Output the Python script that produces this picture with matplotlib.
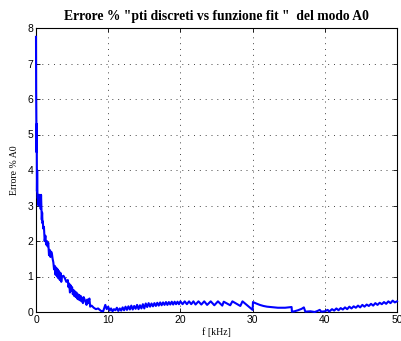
import matplotlib
matplotlib.use("Agg")
import matplotlib.pyplot as plt

# Frequency (kHz) and percentage error between discrete points and fitted curve, mode A0
freq_khz = [
    0.0, 0.02, 0.05, 0.08, 0.1, 0.13, 0.16, 0.2, 0.25, 0.3, 0.35, 0.4, 0.45, 0.5,
    0.55, 0.6, 0.65, 0.7, 0.75, 0.8,
    0.85, 0.9, 0.95, 1.0, 1.1, 1.2, 1.3, 1.4, 1.5, 1.6, 1.7, 1.8, 1.9, 2.0, 2.1,
    2.2, 2.3, 2.4, 2.5, 2.6, 2.7, 2.8, 2.9, 3.0, 3.1, 3.2, 3.3, 3.4, 3.5, 3.6,
    3.8, 4.0, 4.2, 4.4, 4.5, 4.6, 4.7, 4.8, 4.9, 5.0, 5.1, 5.2, 5.3, 5.4, 5.5,
    5.6, 5.7, 5.8, 5.9, 6.0, 6.1, 6.2, 6.3, 6.4, 6.5, 6.6, 6.8, 7.0, 7.1, 7.2,
    7.4, 7.5, 7.7, 8.0, 8.3, 8.6, 9.0, 9.3, 9.6, 9.8, 10.0, 10.2, 10.4, 10.6,
    10.8,
    11.0, 11.2, 11.4, 11.6, 11.8, 12.0, 12.2, 12.4, 12.6, 12.8, 13.0, 13.2,
    13.4, 13.6, 13.8, 14.0, 14.2, 14.4, 14.6, 14.8, 15.0, 15.2, 15.4, 15.6,
    15.8, 16.0, 16.2, 16.4, 16.6, 16.8, 17.0, 17.2, 17.4, 17.6, 17.8, 18.0,
    18.2, 18.4, 18.6, 18.8, 19.0, 19.2, 19.4, 19.6, 19.8, 20.0, 20.3, 20.6,
    20.9, 21.2, 21.5, 21.8, 22.1, 22.5, 22.9, 23.3, 23.7, 24.2, 24.7, 25.2,
    25.8, 26.0, 26.9, 27.2, 28.3, 28.6, 30.0, 30.05,
    30.5, 31.0, 31.5, 32.0, 32.5, 33.0, 33.5, 34.0, 34.5, 35.0, 35.4, 35.45,
    35.8, 36.3, 36.8, 37.1, 37.3, 38.0, 38.6, 39.0, 39.3, 39.5, 40.0, 40.4,
    40.6,
    41.0, 41.3, 41.6, 41.9, 42.2, 42.5, 42.8, 43.1, 43.4, 43.7, 44.0, 44.3,
    44.6, 44.9, 45.2, 45.5, 45.8, 46.1, 46.4, 46.7, 47.0, 47.3, 47.6, 47.9,
    48.2, 48.5, 48.8, 49.1, 49.4, 49.7, 50.0,
]
error_pct = [
    7.75, 6.2, 5.4, 4.5, 5.3, 3.4, 4.0, 3.3, 3.2, 3.3, 3.0, 3.3, 3.1, 3.3,
    3.0, 3.2, 2.9, 3.3, 2.9, 2.6,
    2.8, 2.5, 2.55, 2.35, 2.4, 2.0, 2.15, 1.9, 2.0, 1.85, 1.95, 1.6, 1.75, 1.55,
    1.7, 1.65, 1.5, 1.4, 1.2, 1.3, 1.05, 1.25, 1.0, 1.2, 0.95, 1.15, 0.9, 1.1,
    0.85, 1.0, 1.02, 0.95, 0.85, 0.9, 0.7, 0.8, 0.55, 0.75, 0.6, 0.7, 0.5,
    0.62, 0.45, 0.58, 0.42, 0.55, 0.38, 0.5, 0.35, 0.48, 0.33, 0.45, 0.3, 0.4,
    0.25, 0.42, 0.32, 0.2, 0.35, 0.25, 0.38, 0.15, 0.18, 0.12, 0.08, 0.1, 0.03,
    0.02, 0.2, 0.08, 0.15, 0.04, 0.1, 0.02, 0.08,
    0.05, 0.12, 0.03, 0.1, 0.04, 0.13, 0.05, 0.15, 0.06, 0.16, 0.07, 0.18,
    0.07, 0.17, 0.09, 0.2, 0.08, 0.19, 0.1, 0.22, 0.1, 0.24, 0.14, 0.25,
    0.15, 0.24, 0.16, 0.25, 0.17, 0.26, 0.18, 0.27, 0.19, 0.27, 0.2, 0.28,
    0.2, 0.28, 0.21, 0.29, 0.21, 0.29, 0.22, 0.29, 0.22, 0.3, 0.22, 0.3,
    0.22, 0.3, 0.22, 0.3, 0.21, 0.3, 0.21, 0.3, 0.2, 0.3, 0.19, 0.3,
    0.18, 0.29, 0.19, 0.3, 0.17, 0.3, 0.06, 0.28,
    0.24, 0.2, 0.17, 0.15, 0.14, 0.13, 0.12, 0.12, 0.12, 0.13, 0.14, 0.01,
    0.02, 0.05, 0.09, 0.13, 0.01, 0.02, 0.0, 0.03, 0.06, 0.01, 0.02, 0.06,
    0.01,
    0.08, 0.04, 0.1, 0.05, 0.11, 0.07, 0.13, 0.08, 0.15, 0.1, 0.16, 0.12,
    0.18, 0.13, 0.2, 0.15, 0.21, 0.17, 0.23, 0.18, 0.25, 0.2, 0.26, 0.22,
    0.28, 0.23, 0.3, 0.25, 0.32, 0.27, 0.3,
]

x_ticks = [0, 10, 20, 30, 40, 50]
y_ticks = [0, 1, 2, 3, 4, 5, 6, 7, 8]

fig = plt.figure(figsize=(4.01, 3.41), dpi=100)
ax = fig.add_axes([36 / 401, 29 / 341, 361 / 401, 284 / 341])

ax.plot(freq_khz, error_pct, color=(0, 0, 1), linewidth=1.5,
        zorder=3, clip_on=False)

ax.set_xlim(0, 50)
ax.set_ylim(0, 8)
ax.set_xticks(x_ticks)
ax.set_yticks(y_ticks)
ax.grid(True, color="#444444", linestyle=(0, (1, 5)), linewidth=0.7)

tick_font = {"family": "Liberation Sans", "size": 7.5}
ax.set_xticklabels([str(t) for t in x_ticks], fontdict=tick_font)
ax.set_yticklabels([str(t) for t in y_ticks], fontdict=tick_font)
ax.tick_params(direction="in", length=3, width=0.6, top=True, right=True, pad=2)
for s in ax.spines.values():
    s.set_linewidth(0.8)

ax.set_xlabel("f [kHz]", family="Liberation Serif", fontsize=7, labelpad=2)
ax.set_ylabel("Errore % A0", family="Liberation Serif", fontsize=7, labelpad=6)
ax.set_title('Errore % "pti discreti vs funzione fit "  del modo A0',
             family="Liberation Serif", fontweight="bold", fontsize=9.8, pad=6)

fig.savefig("out.png", dpi=100)
